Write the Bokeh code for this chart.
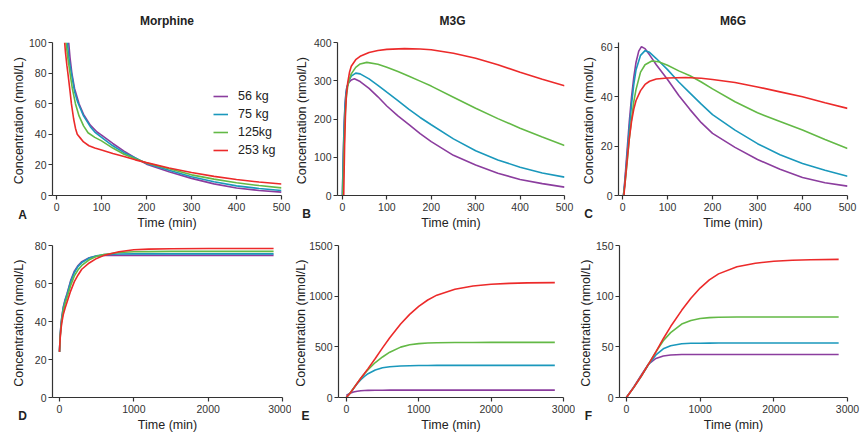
from bokeh.plotting import figure
from bokeh.layouts import column, row
from bokeh.models import Range1d, Label, Legend, LegendItem
from bokeh.embed import file_html
from bokeh.resources import INLINE

# ---------------- data ----------------
weights = ["56 kg", "75 kg", "125kg", "253 kg"]
colors = ["#8B3D9E", "#1A98BC", "#63B946", "#EC2A2A"]
titles = ["Morphine", "M3G", "M6G"]
letters = ["A", "B", "C", "D", "E", "F"]

short_xticks = [0, 100, 200, 300, 400, 500]
long_xticks = [0, 1000, 2000, 3000]
A_yticks = [0, 20, 40, 60, 80, 100]
B_yticks = [0, 100, 200, 300, 400]
C_yticks = [0, 20, 40, 60]
D_yticks = [0, 20, 40, 60, 80]
E_yticks = [0, 500, 1000, 1500]
F_yticks = [0, 50, 100, 150]

# Panel A: morphine, 0-500 min
A_t_56 = [27, 30, 34, 40, 50, 60, 75, 90, 100, 125, 150, 175, 200, 250, 300, 350, 400, 450, 500]
A_56 = [100, 90, 80, 70, 60, 53, 46, 41.5, 39.5, 34, 29, 24.5, 20.5, 15.5, 11.2, 7.6, 4.9, 3.3, 2.2]
A_t_75 = [24, 27, 30, 33, 40, 47, 60, 75, 85, 100, 125, 150, 175, 200, 250, 300, 350, 400, 450, 500]
A_75 = [100, 91, 85, 80, 68, 61, 52, 45, 41.5, 38, 32.5, 28, 24.5, 21, 16.5, 12.3, 9, 6.3, 4.6, 3.3]
A_t_125 = [21, 25, 30, 35, 42, 50, 60, 70, 85, 100, 125, 150, 175, 200, 250, 300, 350, 400, 450, 500]
A_125 = [100, 90, 80, 70, 60, 52, 45.5, 41, 38, 35.7, 31, 27, 24, 21.3, 17.5, 13.5, 10.7, 8.3, 6.5, 5]
A_t_253 = [18, 20, 23, 26, 30, 33, 38, 42, 46, 53, 60, 72, 85, 100, 125, 150, 175, 200, 250, 300, 350, 400, 450, 500]
A_253 = [100, 93, 85, 78, 68, 60, 50, 44, 40, 37.5, 35, 32.5, 31, 29.8, 27.5, 25.5, 23.3, 21.5, 18, 15, 12.5, 10.5, 8.8, 7.5]

# Panel B: M3G, 0-500 min
B_t_56 = [0, 2, 4, 6, 8, 10, 14, 20, 27, 40, 60, 80, 100, 125, 150, 175, 200, 250, 300, 350, 400, 450, 500]
B_56 = [0, 110, 190, 240, 268, 283, 295, 302, 305, 298, 280, 258, 234, 208, 185, 162, 141, 105, 80, 58, 42, 31, 22]
B_t_75 = [0, 2, 4, 6, 8, 10, 14, 20, 30, 40, 60, 80, 100, 125, 150, 175, 200, 250, 300, 350, 400, 450, 500]
B_75 = [0, 100, 180, 235, 265, 282, 298, 312, 320, 318, 305, 288, 270, 248, 225, 204, 185, 148, 117, 93, 74, 59, 48]
B_t_125 = [1, 3, 5, 7, 9, 12, 16, 20, 30, 40, 55, 80, 100, 125, 150, 175, 200, 250, 300, 350, 400, 450, 500]
B_125 = [0, 90, 170, 225, 258, 285, 305, 318, 335, 344, 348, 343, 335, 324, 312, 299, 286, 257, 228, 201, 176, 153, 131]
B_t_253 = [3, 5, 7, 9, 12, 16, 20, 30, 40, 60, 80, 100, 140, 175, 200, 250, 300, 350, 400, 450, 500]
B_253 = [0, 130, 215, 262, 295, 322, 338, 355, 364, 374, 379, 382, 384, 383, 381, 372, 359, 342, 322, 304, 287]

# Panel C: M6G, 0-500 min
C_t_56 = [2, 5, 10, 15, 20, 25, 30, 36, 42, 50, 60, 75, 100, 125, 150, 175, 200, 250, 300, 350, 400, 450, 500]
C_56 = [0, 6, 18, 30, 40, 48, 54, 58.5, 60.3, 59.5, 57, 53, 47, 40.5, 34.8, 29.5, 25.2, 19.5, 14.6, 10.6, 7.3, 5.2, 3.8]
C_t_75 = [2, 5, 10, 15, 20, 25, 30, 40, 50, 60, 75, 100, 125, 150, 175, 200, 250, 300, 350, 400, 450, 500]
C_75 = [0, 5, 16, 27, 37, 45, 51, 56.8, 58.7, 58, 55.5, 51, 46, 41.5, 37, 32.8, 26.5, 21, 16.5, 13, 10.2, 7.8]
C_t_125 = [2, 5, 10, 15, 20, 25, 30, 40, 50, 65, 80, 100, 125, 150, 175, 200, 250, 300, 350, 400, 450, 500]
C_125 = [0, 4, 13, 23, 31, 38, 43, 50, 53, 54.5, 54.2, 52.8, 50.5, 48.5, 46, 43.2, 38, 33.5, 30, 26.5, 22.7, 19]
C_t_253 = [3, 6, 10, 15, 20, 25, 30, 40, 50, 60, 75, 100, 140, 175, 200, 250, 300, 350, 400, 450, 500]
C_253 = [0, 6, 14, 23, 30, 35, 38.5, 42.5, 45, 46.3, 47.2, 47.6, 47.8, 47.5, 47, 45.8, 44, 42, 40, 37.6, 35.3]

# Panel D: morphine, 0-2880 min
D_t = [0, 5, 10, 20, 30, 50, 75, 100, 150, 200, 250, 300, 400, 500, 600, 800, 1000, 1200, 1500, 2000, 2500, 2880]
D_56 = [24, 29, 33, 38.5, 42, 47.5, 51.5, 54.5, 61.5, 66.5, 69.5, 71.5, 73.6, 74.4, 74.7, 74.8, 74.8, 74.8, 74.8, 74.8, 74.8, 74.8]
D_75 = [24, 29, 33, 38, 41.5, 47, 51, 54, 61, 65.8, 69, 71, 73.4, 74.6, 75.2, 75.5, 75.6, 75.6, 75.6, 75.6, 75.6, 75.6]
D_125 = [24, 28.5, 32, 37, 40.5, 45.5, 49.5, 52.5, 59, 64, 67.2, 69.5, 72.5, 74.3, 75.3, 76.3, 76.7, 76.8, 76.9, 76.9, 76.9, 76.9]
D_253 = [24, 28, 31.5, 36, 39, 43.5, 47, 50, 56, 61, 64.5, 67.5, 70.8, 73.2, 74.8, 76.7, 77.8, 78.1, 78.3, 78.4, 78.4, 78.4]

# Panel E: M3G, 0-2880 min
E_t = [0, 50, 100, 150, 200, 250, 300, 400, 500, 600, 750, 875, 1000, 1125, 1250, 1500, 1750, 2000, 2250, 2500, 2880]
E_56 = [20, 42, 55, 62, 66, 68.5, 70, 71.5, 72, 72.5, 73, 73, 73, 73, 73, 73, 73, 73, 73, 73, 73]
E_75 = [0, 40, 88, 135, 175, 208, 235, 272, 293, 304, 311, 314, 315.5, 316.5, 317, 317, 317, 317, 317, 317, 317]
E_125 = [0, 42, 92, 142, 190, 235, 275, 345, 400, 447, 497, 520, 532, 538, 541, 543, 543.5, 544, 544, 544, 544]
E_253 = [0, 40, 90, 140, 190, 237, 285, 385, 490, 590, 725, 820, 900, 962, 1010, 1068, 1100, 1117, 1126, 1131, 1134]

# Panel F: M6G, 0-2880 min
F_t = [0, 100, 200, 300, 400, 500, 600, 750, 875, 1000, 1125, 1250, 1500, 1750, 2000, 2250, 2500, 2880]
F_56 = [0, 10.5, 22, 33, 38.5, 41, 42, 42.4, 42.5, 42.5, 42.5, 42.5, 42.5, 42.5, 42.5, 42.5, 42.5, 42.5]
F_75 = [0, 10, 21, 32.5, 42, 48, 51, 53, 53.5, 53.6, 53.7, 53.8, 53.8, 53.8, 53.8, 53.8, 53.8, 53.8]
F_125 = [0, 10, 21, 33, 45, 56, 64, 72.5, 76, 78, 78.8, 79.2, 79.5, 79.5, 79.5, 79.5, 79.5, 79.5]
F_253 = [0, 10, 21, 33, 45, 58, 70, 86, 98, 108, 116, 122, 129, 132.5, 134.5, 135.5, 136, 136.3]

FONT = "Liberation Sans"


def make_panel(width, height, bl, br, bt, bb, xr, yr, xticks, yticks, series,
               ylab_standoff, letter, letter_xy, title=None, legend_loc=None):
    p = figure(width=width, height=height,
               min_border_left=bl, min_border_right=br,
               min_border_top=bt, min_border_bottom=bb,
               x_range=Range1d(*xr), y_range=Range1d(*yr),
               output_backend="svg", toolbar_location=None, tools="")
    p.outline_line_color = None
    p.grid.visible = False
    p.border_fill_color = "white"
    rends = []
    for (t, v), c in zip(series, colors):
        rends.append(p.line(t, v, line_color=c, line_width=1.6))

    p.xaxis.ticker = xticks
    p.yaxis.ticker = yticks
    for ax in (p.xaxis[0], p.yaxis[0]):
        ax.axis_line_color = "#333333"
        ax.axis_line_width = 1.2
        ax.major_tick_line_color = "#333333"
        ax.major_tick_line_width = 1.2
        ax.major_tick_in = 0
        ax.major_tick_out = 4
        ax.minor_tick_line_color = None
        ax.major_label_text_font = FONT
        ax.major_label_text_font_size = "10.5px"
        ax.major_label_text_color = "#333333"
        ax.axis_label_text_font = FONT
        ax.axis_label_text_font_size = "12.5px"
        ax.axis_label_text_font_style = "normal"
        ax.axis_label_text_color = "#222222"
    p.xaxis.axis_label = "Time (min)"
    p.yaxis.axis_label = "Concentration  (nmol/L)"
    p.xaxis.major_label_standoff = 3
    p.xaxis.axis_label_standoff = 2
    p.yaxis.major_label_standoff = 2
    p.yaxis.axis_label_standoff = ylab_standoff

    fw = width - bl - br
    # panel letter, placed in the right side panel (not clipped to the frame)
    p.add_layout(Label(x=letter_xy[0], y=letter_xy[1], x_units="screen", y_units="screen",
                       text=letter, text_font=FONT, text_font_size="12px",
                       text_font_style="bold", text_color="#222222",
                       text_align="center", text_baseline="middle"), "right")
    if title is not None:
        p.add_layout(Label(x=fw / 2, y=22, x_units="screen", y_units="screen",
                           text=title, text_font=FONT, text_font_size="12px",
                           text_font_style="bold", text_color="#222222",
                           text_align="center", text_baseline="middle"), "above")
    if legend_loc is not None:
        leg = Legend(items=[LegendItem(label=w, renderers=[r]) for w, r in zip(weights, rends)],
                     location=legend_loc, border_line_color=None,
                     background_fill_alpha=0, padding=0, margin=0, spacing=4,
                     glyph_width=15, glyph_height=14, label_height=14,
                     label_standoff=10, label_text_font=FONT,
                     label_text_font_size="12.5px", label_text_color="#222222")
        p.add_layout(leg)
    return p


pA = make_panel(291, 233, 52, 10, 42, 38, (-9, 500), (0, 100), short_xticks, A_yticks,
                [(A_t_56, A_56), (A_t_75, A_75), (A_t_125, A_125), (A_t_253, A_253)],
                0, letters[0], (-259, -19), titles[0], legend_loc=(161, 38))
pB = make_panel(284, 233, 43, 11, 42, 38, (-11, 500), (0, 400), short_xticks, B_yticks,
                [(B_t_56, B_56), (B_t_75, B_75), (B_t_125, B_125), (B_t_253, B_253)],
                2, letters[1], (-258, -18), titles[1])
pC = make_panel(286, 233, 43, 14, 42, 38, (-9, 500), (0, 62), short_xticks, C_yticks,
                [(C_t_56, C_56), (C_t_75, C_75), (C_t_125, C_125), (C_t_253, C_253)],
                2, letters[2], (-259, -18), titles[2])
pD = make_panel(291, 202, 52, 9, 12, 38, (-94, 3000), (0, 80), long_xticks, D_yticks,
                [(D_t, D_56), (D_t, D_75), (D_t, D_125), (D_t, D_253)],
                6, letters[3], (-260, -18))
pE = make_panel(284, 202, 43, 12, 12, 38, (-108, 3000), (0, 1500), long_xticks, E_yticks,
                [(E_t, E_56), (E_t, E_75), (E_t, E_125), (E_t, E_253)],
                -2, letters[4], (-258, -18))
pF = make_panel(286, 202, 42, 14, 12, 38, (-94, 3000), (0, 150), long_xticks, F_yticks,
                [(F_t, F_56), (F_t, F_75), (F_t, F_125), (F_t, F_253)],
                0, letters[5], (-259, -18))

layout = column(row(pA, pB, pC), row(pD, pE, pF))
open("out.html", "w").write(file_html(layout, INLINE))
